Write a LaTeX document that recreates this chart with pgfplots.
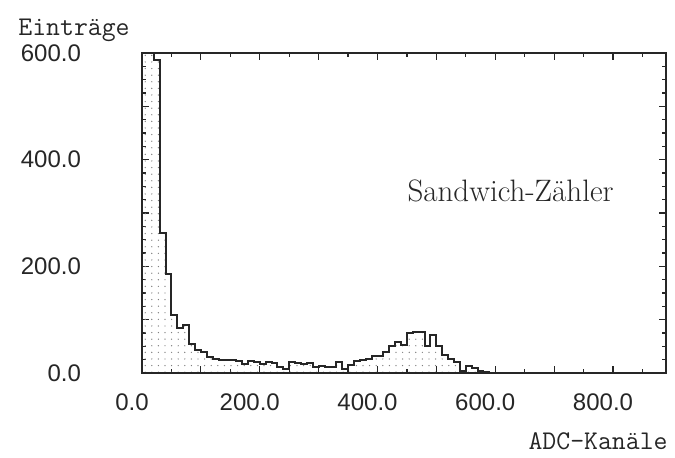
\documentclass[border=0pt]{standalone}
\usepackage{fontspec}
\usepackage{pgfplots}
\pgfplotsset{compat=1.18}
\usetikzlibrary{patterns.meta}
\newfontfamily\ticksfont{Liberation Sans}

\begin{document}
\begin{tikzpicture}
\path (0,0) rectangle (337.5pt,229pt);
\begin{axis}[
  at={(71pt,42.5pt)}, anchor=south west,
  scale only axis, width=262pt, height=160pt,
  xmin=0, xmax=890, ymin=0, ymax=600,
  xtick={0,100,...,800},
  xticklabels={0.0,,200.0,,400.0,,600.0,,800.0},
  ytick={0,100,...,600},
  yticklabels={0.0,,200.0,,400.0,,600.0},
  minor x tick num=1, minor y tick num=3,
  extra x ticks={850}, extra x tick labels={},
  extra x tick style={major tick length=1.8pt},
  major tick length=3.5pt, minor tick length=1.8pt,
  tick style={black!85, line width=0.6pt},
  axis line style={black!85, line width=0.8pt},
  tick label style={font=\ticksfont\fontsize{12}{14}\selectfont, text=black!85},
  xticklabel style={xshift=-5pt, yshift=-7pt},
  yticklabel style={xshift=-27pt},
]
\addplot[const plot, draw=black!85, line width=1pt,
  pattern={Dots[distance=3.3pt, radius=0.35pt]}, pattern color=black!50]
  table[x=x, y=y] {
x y
0 600
10 600
20 587
30 263
40 186
50 109
60 84
70 90
80 54
90 43
100 40
110 30
120 26
130 25
140 25
150 24
160 23
170 16
180 23
190 21
200 16
210 21
220 18
230 12
240 8
250 20
260 19
270 16
280 18
290 12
300 14
310 12
320 12
330 21
340 7
350 15
360 22
370 25
380 27
390 31
400 32
410 39
420 50
430 58
440 53
450 75
460 77
470 77
480 50
490 72
500 50
510 34
520 26
530 20
540 4
550 14
560 10
570 4
580 1
590 0
} \closedcycle;
\node[font=\fontsize{15.5}{18}\selectfont, text=black!85] at (axis cs:626,342) {Sandwich-Zähler};
\end{axis}
\node[anchor=base west, inner sep=0pt, font=\ttfamily\fontsize{13.5}{15}\selectfont, text=black!85] at (9pt,211pt) {Einträge};
\node[anchor=base east, inner sep=0pt, font=\ttfamily\fontsize{13.5}{15}\selectfont, text=black!85] at (334pt,4pt) {ADC-Kanäle};
\end{tikzpicture}
\end{document}
